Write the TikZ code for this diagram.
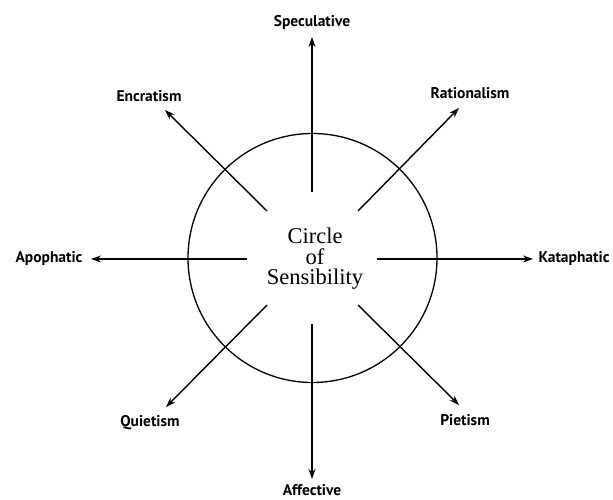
\documentclass[tikz,border=0pt]{standalone}
\usepackage{fontspec}
\setmainfont{Liberation Serif}
\newfontfamily\labfont{PT Sans}
\usetikzlibrary{arrows.meta}
\begin{document}
\begin{tikzpicture}[x=1pt,y=-1pt,
  lab/.style={font=\labfont\bfseries\fontsize{15.5}{17}\selectfont, inner sep=0pt},
  arr/.style={line width=1.4pt, -{Stealth[length=10pt,width=7pt]}},
  ring/.style={line width=1.3pt}]
\useasboundingbox (0,0) rectangle (613,500);
\draw[ring] (312.5,258) circle[radius=124.5];
\node[font=\fontsize{22.5}{20.5}\selectfont, align=center, inner sep=0pt] (c) at (315,259) {Circle\\of\\Sensibility};
% labels
\node[lab] (spe) at (312,23) {Speculative};
\node[lab] (rat) at (470,93) {Rationalism};
\node[lab] (kat) at (574,259) {Kataphatic};
\node[lab] (pie) at (465,420) {Pietism};
\node[lab] (aff) at (312,490) {Affective};
\node[lab] (qui) at (150,423) {Quietism};
\node[lab] (apo) at (49,259) {Apophatic};
\node[lab] (enc) at (149,96) {Encratism};
% start and tip points
\coordinate (s1) at (312,192); \coordinate (t1) at (312,37);
\coordinate (s2) at (358,211); \coordinate (t2) at (459,108);
\coordinate (s3) at (377,259); \coordinate (t3) at (533,259);
\coordinate (s4) at (358,305); \coordinate (t4) at (459,405);
\coordinate (s5) at (312,324); \coordinate (t5) at (312,479);
\coordinate (s6) at (267,305); \coordinate (t6) at (166,407);
\coordinate (s7) at (247,259); \coordinate (t7) at (91,259);
\coordinate (s8) at (267,211); \coordinate (t8) at (165,110);
\foreach \i in {1,...,8} {\draw[arr] (s\i) -- (t\i);}
\end{tikzpicture}
\end{document}
